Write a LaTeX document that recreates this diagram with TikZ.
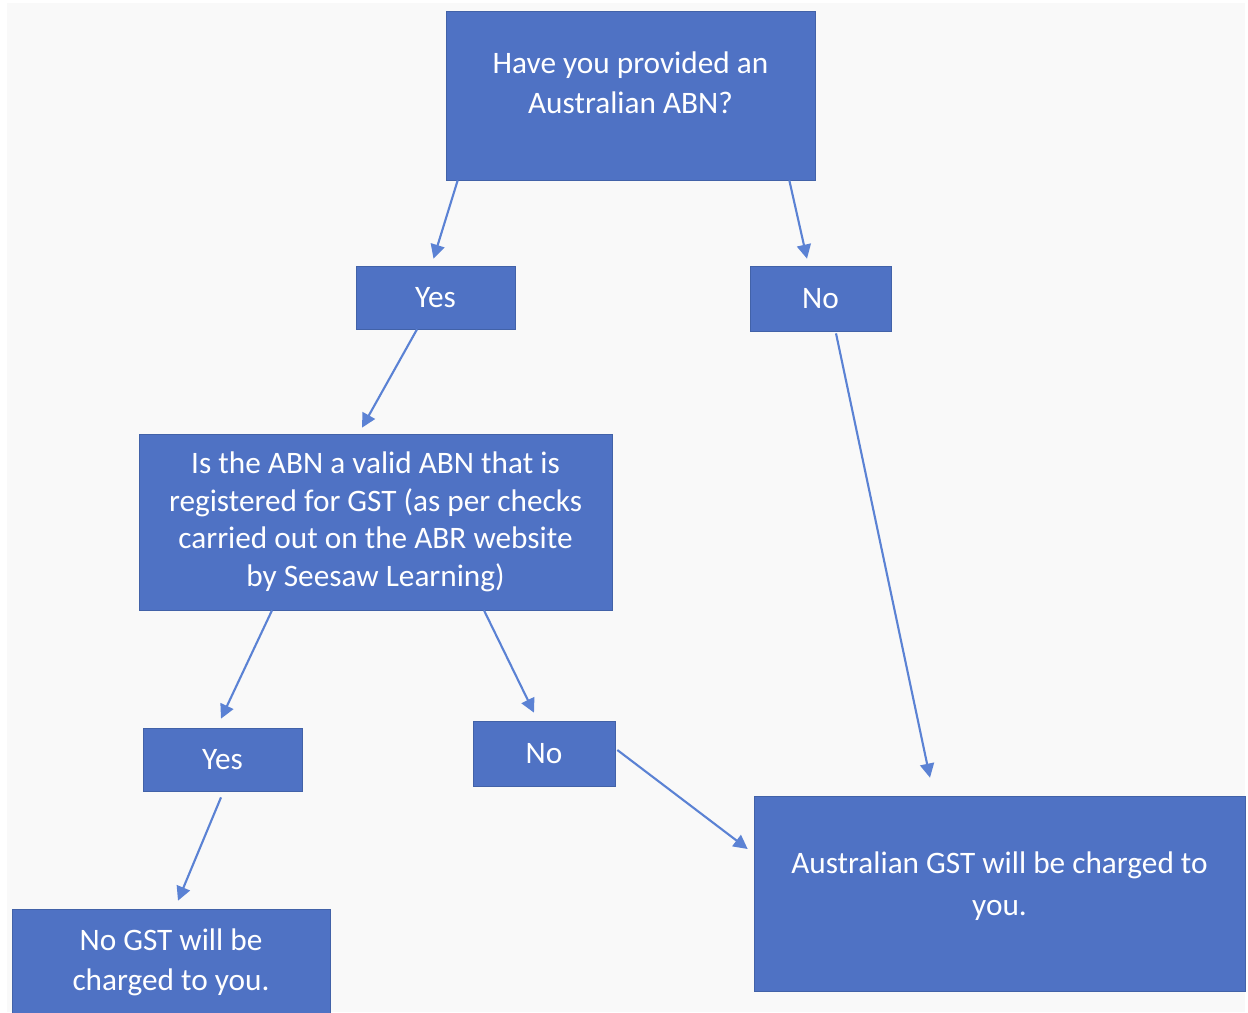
\documentclass[tikz,border=0pt]{standalone}
\usepackage{fontspec}
\setmainfont{Carlito}
\usetikzlibrary{arrows.meta,calc}
\definecolor{boxblue}{RGB}{79,114,196}
\definecolor{boxline}{RGB}{66,98,168}
\definecolor{arrblue}{RGB}{91,130,212}
\definecolor{paper}{RGB}{249,249,249}

\begin{document}
\begin{tikzpicture}[x=0.02cm,y=-0.02cm,
  box/.style={draw=boxline, fill=boxblue, text=white, align=center, inner sep=0pt,
    font=\fontsize{17.8}{22.8}\selectfont},
  arr/.style={draw=arrblue, line width=1.2pt, -{Triangle[length=8pt,width=8pt]}}]
\useasboundingbox (0,0) rectangle (1248,1012);
\fill [white] (0,0) rectangle (1248,1012);
\fill [paper] (7,3) rectangle (1245,1012);
% boxes
\node [box, minimum width=7.38cm, minimum height=3.38cm, text depth=15pt] (abn) at (630.5,95.5) {Have you provided an\\Australian ABN?};
\node [box, minimum width=3.18cm, minimum height=1.26cm] (yes1) at (435.5,297.5) {Yes};
\node [box, minimum width=2.82cm, minimum height=1.30cm] (no1) at (820.5,298.5) {No};
\node [box, minimum width=9.46cm, minimum height=3.52cm, font=\fontsize{17.8}{21.4}\selectfont] (valid) at (375.5,522) {Is the ABN a valid ABN that is\\registered for GST (as per checks\\carried out on the ABR website\\by Seesaw Learning)};
\node [box, minimum width=3.18cm, minimum height=1.26cm] (yes2) at (222.5,759.5) {Yes};
\node [box, minimum width=2.84cm, minimum height=1.30cm] (no2) at (544,753.5) {No};
\node [box, minimum width=9.82cm, minimum height=3.90cm, text depth=11pt, font=\fontsize{17.8}{23.9}\selectfont] (gst) at (999.5,893.5) {Australian GST will be charged to\\you.};
\node [box, minimum width=6.36cm, minimum height=2.12cm] (nogst) at (171,962) {No GST will be\\charged to you.};
% arrows
\draw [arr] ($(abn.south west)+(12,0)$) -- ($(yes1.north)+(-2,-7)$);
\draw [arr] ($(abn.south east)+(-26,0)$) -- ($(no1.north)+(-13.5,-7)$);
\draw [arr] ($(yes1.south)+(-18.5,0)$) -- ($(valid.north)+(-13.5,-6)$);
\draw [arr] ($(no1.south)+(15.5,2)$) -- ($(gst.north)+(-69.5,-18)$);
\draw [arr] ($(valid.south)+(-103.5,0)$) -- ($(yes2.north)+(-1.5,-9)$);
\draw [arr] ($(valid.south)+(108.5,0)$) -- ($(no2.north)+(-10,-8)$);
\draw [arr] ($(yes2.south)+(-1.5,6)$) -- ($(nogst.north)+(7,-8)$);
\draw [arr] ($(no2.east)+(2,-3.5)$) -- ($(gst.west)+(-6,-44.5)$);
\end{tikzpicture}
\end{document}
